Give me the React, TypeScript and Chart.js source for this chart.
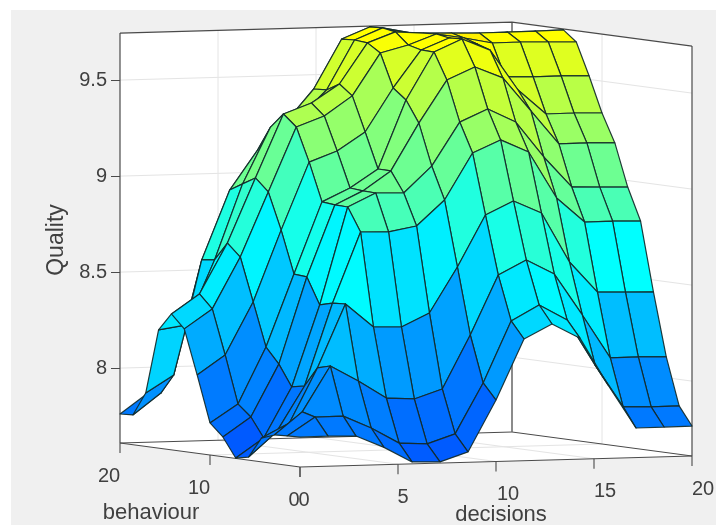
import React, { useEffect, useRef } from "react";
import { Chart, registerables } from "chart.js";

Chart.register(...registerables);

// Quality: one row per behaviour step, one value per decisions step.
const gridSteps = 14;
const behaviour00 = [7.766,7.767,7.763,7.70,7.62,7.616,7.664,7.93,8.244,8.318,8.24,7.992,7.764,7.765,7.766];
const behaviour01 = [7.763,7.857,7.858,7.792,7.709,7.701,7.749,8.01,8.329,8.408,8.326,8.087,7.865,7.861,7.862];
const behaviour03 = [7.759,7.875,8.11,8.028,7.935,7.926,7.974,8.251,8.559,8.633,8.556,8.339,8.111,8.112,8.108];
const behaviour04 = [7.734,7.808,8.091,8.42,8.296,8.292,8.361,8.596,8.863,8.932,8.865,8.606,8.445,8.441,8.438];
const behaviour06 = [7.626,7.753,7.988,8.416,8.782,8.778,8.805,8.936,9.177,9.241,9.174,8.93,8.801,8.802,8.798];
const behaviour07 = [7.612,7.712,7.974,8.397,8.903,8.972,8.968,9.104,9.329,9.393,9.321,9.135,8.975,8.97,8.966];
const behaviour09 = [7.713,7.813,8.084,8.534,8.905,8.974,9.074,9.319,9.539,9.603,9.542,9.366,9.19,9.191,9.187];
const behaviour10 = [7.777,7.871,8.164,8.54,8.912,8.98,9.075,9.43,9.676,9.74,9.678,9.466,9.337,9.338,9.334];
const behaviour11 = [8.018,8.118,8.39,8.76,9.11,9.164,9.259,9.484,9.678,9.736,9.701,9.525,9.521,9.522,9.518];
const behaviour13 = [8.249,8.349,8.615,8.95,9.284,9.337,9.438,9.657,9.695,9.748,9.723,9.693,9.694,9.69,9.686];
const behaviour14 = [8.318,8.418,8.679,9.014,9.343,9.396,9.491,9.701,9.754,9.744,9.74,9.736,9.737,9.738,9.74];
const behaviour16 = [8.226,8.248,8.582,8.974,9.266,9.309,9.451,9.707,9.766,9.736,9.726,9.722,9.718,9.714,9.71];
const behaviour17 = [7.888,7.978,8.573,8.933,9.138,9.279,9.447,9.703,9.762,9.727,9.707,9.692,9.688,9.684,9.68];
const behaviour19 = [7.765,7.875,8.303,8.56,8.79,9.02,9.225,9.403,9.659,9.67,9.677,9.663,9.648,9.644,9.64];
const behaviour20 = [7.761,7.866,8.112,8.342,8.547,8.751,8.955,9.159,9.52,9.62,9.642,9.633,9.618,9.604,9.6];
const qualityRows = [
  behaviour00, behaviour01, behaviour03, behaviour04, behaviour06,
  behaviour07, behaviour09, behaviour10, behaviour11, behaviour13,
  behaviour14, behaviour16, behaviour17, behaviour19, behaviour20,
];

const qualityTicks = [8, 8.5, 9, 9.5];
const decisionTicks = [0, 5, 10, 15, 20];
const behaviourTicks = [0, 10, 20];

const zFloor = 7.61;
const zCeil = 9.745;
const domainMax = 20;

// The chart's linear scales hold the oblique view of the box.
const project = (d: number, b: number, z: number) => ({
  x: d - (9 / 19.6) * b,
  y: z + (0.55 * d + 1.2 * b - 24) / 192,
});

const mix = (a: number, b: number, t: number) => Math.round(a + (b - a) * t);
function colourOf(z: number) {
  if (z < 8.44) {
    const t = Math.max(0, (z - 7.61) / 0.83);
    return `rgb(0,${mix(90, 255, t)},255)`;
  }
  if (z >= 9.72) return "rgb(255,240,0)";
  const t = Math.min(1, (z - 8.44) / 1.24);
  return `rgb(${mix(0, 255, t)},255,${mix(255, 0, t)})`;
}

function segment(points: { x: number; y: number }[], color: string, width: number) {
  return {
    data: points, showLine: true, fill: false, borderColor: color, borderWidth: width,
    pointRadius: 0, clip: false,
  };
}

function buildDatasets() {
  const back: any[] = [];
  const D = domainMax, B = domainMax;
  // walls and floor
  back.push({
    data: [
      project(0, B, zFloor), project(0, B, zCeil), project(D, B, zCeil), project(D, 0, zCeil),
      project(D, 0, zFloor), project(0, 0, zFloor), project(0, B, zFloor),
    ],
    showLine: true, fill: "shape", backgroundColor: "#ffffff", borderColor: "rgba(0,0,0,0)",
    borderWidth: 0, pointRadius: 0, clip: false,
  });
  const gridColor = "#e4e4e4";
  for (const q of qualityTicks) {
    back.push(segment([project(0, B, q), project(D, B, q), project(D, 0, q)], gridColor, 1));
  }
  for (const d of decisionTicks.slice(1, -1)) {
    back.push(segment([project(d, 0, zFloor), project(d, B, zFloor), project(d, B, zCeil)], gridColor, 1));
  }
  for (const b of behaviourTicks.slice(1, -1)) {
    back.push(segment([project(0, b, zFloor), project(D, b, zFloor), project(D, b, zCeil)], gridColor, 1));
  }
  const edge = "#4a4a4a";
  back.push(segment([project(0, B, zFloor), project(D, B, zFloor), project(D, 0, zFloor)], edge, 1));
  back.push(segment([project(D, B, zFloor), project(D, B, zCeil)], "#6e6e6e", 1.6));
  back.push(segment([project(0, B, zCeil), project(D, B, zCeil), project(D, 0, zCeil)], edge, 1.2));
  back.push(segment([project(0, B, zFloor), project(0, B, zCeil)], edge, 1.2));
  back.push(segment([project(D, 0, zFloor), project(D, 0, zCeil)], edge, 1.2));
  back.push(segment([project(0, B, zFloor), project(0, 0, zFloor), project(D, 0, zFloor)], edge, 1.2));

  // surface faces, farthest first
  const step = domainMax / gridSteps;
  for (let j = gridSteps - 1; j >= 0; j--) {
    for (let i = gridSteps - 1; i >= 0; i--) {
      const corners = [[i, j], [i + 1, j], [i + 1, j + 1], [i, j + 1], [i, j]];
      back.push({
        data: corners.map(([a, c]) => project(a * step, c * step, qualityRows[c][a])),
        showLine: true, fill: "shape", backgroundColor: colourOf(qualityRows[j][i]),
        borderColor: "rgba(18,42,42,0.92)", borderWidth: 1.2, borderJoinStyle: "round",
        pointRadius: 0, clip: false,
      });
    }
  }
  return back.reverse(); // Chart.js paints the last dataset first
}

const decisionLabelShift = [4, 5, 12, 11, 11];
const behaviourLabelShift = [-6, -11, -11];

const frame = {
  id: "frame",
  beforeDraw(chart: any) {
    const { ctx, width, height } = chart;
    ctx.save();
    ctx.fillStyle = "#ffffff";
    ctx.fillRect(0, 0, width, height);
    ctx.fillStyle = "#f0f0f0";
    ctx.fillRect(11, 10, width - 11, height - 10);
    ctx.restore();
  },
  afterDraw(chart: any) {
    const { ctx, scales } = chart;
    const px = (p: { x: number; y: number }) => [scales.x.getPixelForValue(p.x), scales.y.getPixelForValue(p.y)];
    ctx.save();
    ctx.strokeStyle = "#4a4a4a";
    ctx.lineWidth = 1.1;
    const tick = (p: { x: number; y: number }) => {
      const [x, y] = px(p);
      ctx.beginPath();
      ctx.moveTo(x, y);
      ctx.lineTo(x, y + 10);
      ctx.stroke();
    };
    decisionTicks.forEach((d) => tick(project(d, 0, zFloor)));
    behaviourTicks.forEach((b) => tick(project(0, b, zFloor)));
    ctx.fillStyle = "#404040";
    ctx.textAlign = "center";
    ctx.textBaseline = "middle";
    ctx.font = '20px "Liberation Sans"';
    decisionTicks.forEach((d, k) => {
      const [x, y] = px(project(d, 0, zFloor));
      ctx.fillText(String(d), x + decisionLabelShift[k], y + 33);
    });
    behaviourTicks.forEach((b, k) => {
      const [x, y] = px(project(0, b, zFloor));
      ctx.fillText(String(b), x + behaviourLabelShift[k], y + 33);
    });
    ctx.font = '22px "Liberation Sans"';
    ctx.fillText("decisions", 501, 515);
    ctx.fillText("behaviour", 151, 513);
    ctx.translate(57, 240);
    ctx.rotate(-Math.PI / 2);
    ctx.font = '23px "Liberation Sans"';
    ctx.fillText("Quality", 0, 0);
    ctx.restore();
  },
};

export default function App() {
  const ref = useRef<HTMLCanvasElement | null>(null);
  useEffect(() => {
    const chart = new Chart(ref.current as HTMLCanvasElement, {
      type: "scatter",
      data: { datasets: buildDatasets() },
      plugins: [frame],
      options: {
        animation: false,
        responsive: false,
        devicePixelRatio: 1,
        layout: { padding: { top: 23, right: 24, bottom: 58, left: 0 } },
        plugins: { legend: { display: false }, tooltip: { enabled: false } },
        scales: {
          x: { type: "linear", display: false, min: -(9 / 19.6) * 20, max: 20 },
          y: {
            type: "linear",
            min: zFloor - 24 / 192,
            max: zFloor + 420 / 192,
            afterFit: (s: any) => { s.width = 120; },
            afterBuildTicks: (s: any) => { s.ticks = qualityTicks.map((value) => ({ value })); },
            border: { display: false },
            grid: { drawOnChartArea: false, drawTicks: true, tickLength: 9, color: "#4a4a4a" },
            ticks: {
              padding: 4,
              color: "#404040",
              font: { family: "Liberation Sans", size: 20 },
              callback: (v: any) => String(v),
            },
          },
        },
      } as any,
    });
    return () => chart.destroy();
  }, []);
  return <canvas ref={ref} width={716} height={525} style={{ position: "fixed", left: 0, top: 0 }} />;
}
